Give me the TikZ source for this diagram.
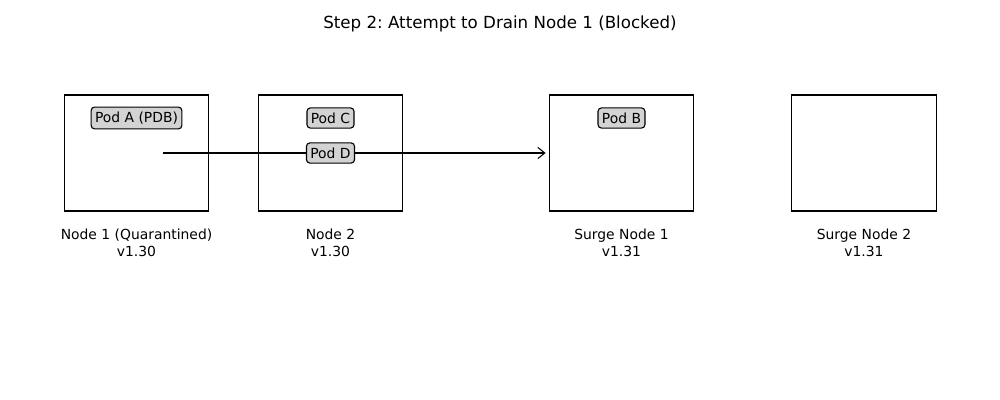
\documentclass[tikz,border=0pt]{standalone}
\usepackage{fontspec}
\setmainfont{DejaVu Sans}
\frenchspacing
\usepackage{tikz}
\usetikzlibrary{arrows.meta}
\definecolor{podgray}{HTML}{D3D3D3}
\tikzset{
  nodebox/.style={draw,line width=0.8pt,minimum width=104pt,minimum height=83.5pt,inner sep=0pt},
  pod/.style={draw,fill=podgray,rounded corners=2.5pt,line width=0.8pt,font=\fontsize{10}{12}\selectfont,inner xsep=2.8pt,inner ysep=3.4pt},
  nodelabel/.style={align=center,font=\fontsize{10}{12.2}\selectfont}
}
\begin{document}
\begin{tikzpicture}[x=0.72pt,y=-0.72pt]
    \useasboundingbox (0,0) rectangle (1000,400);
    \node[font=\fontsize{12}{14}\selectfont] (title) at (500,24) {Step 2: Attempt to Drain Node 1 (Blocked)};
    \node[nodebox] (n1) at (136.5,153) {};
    \node[nodebox] (n2) at (330.5,153) {};
    \node[nodebox] (s1) at (621.5,153) {};
    \node[nodebox] (s2) at (864,153) {};
    \node[nodelabel] (n1lbl) at (136.5,242.5) {Node 1 (Quarantined)\\v1.30};
    \node[nodelabel] (n2lbl) at (330.5,242.5) {Node 2\\v1.30};
    \node[nodelabel] (s1lbl) at (621.5,242.5) {Surge Node 1\\v1.31};
    \node[nodelabel] (s2lbl) at (864,242.5) {Surge Node 2\\v1.31};
    % drain attempt
    \coordinate (drainstart) at (163,153);
    \draw[line width=0.8pt,-{Straight Barb[length=5pt,width=8pt]},shorten >=2.2pt] (drainstart) -- (s1.west);
    \node[pod] (poda) at (136.5,118) {Pod A (PDB)};
    \node[pod] (podc) at (330.5,118) {Pod C};
    \node[pod] (podd) at (330.5,153) {Pod D};
    \node[pod] (podb) at (621.5,118) {Pod B};
\end{tikzpicture}
\end{document}
